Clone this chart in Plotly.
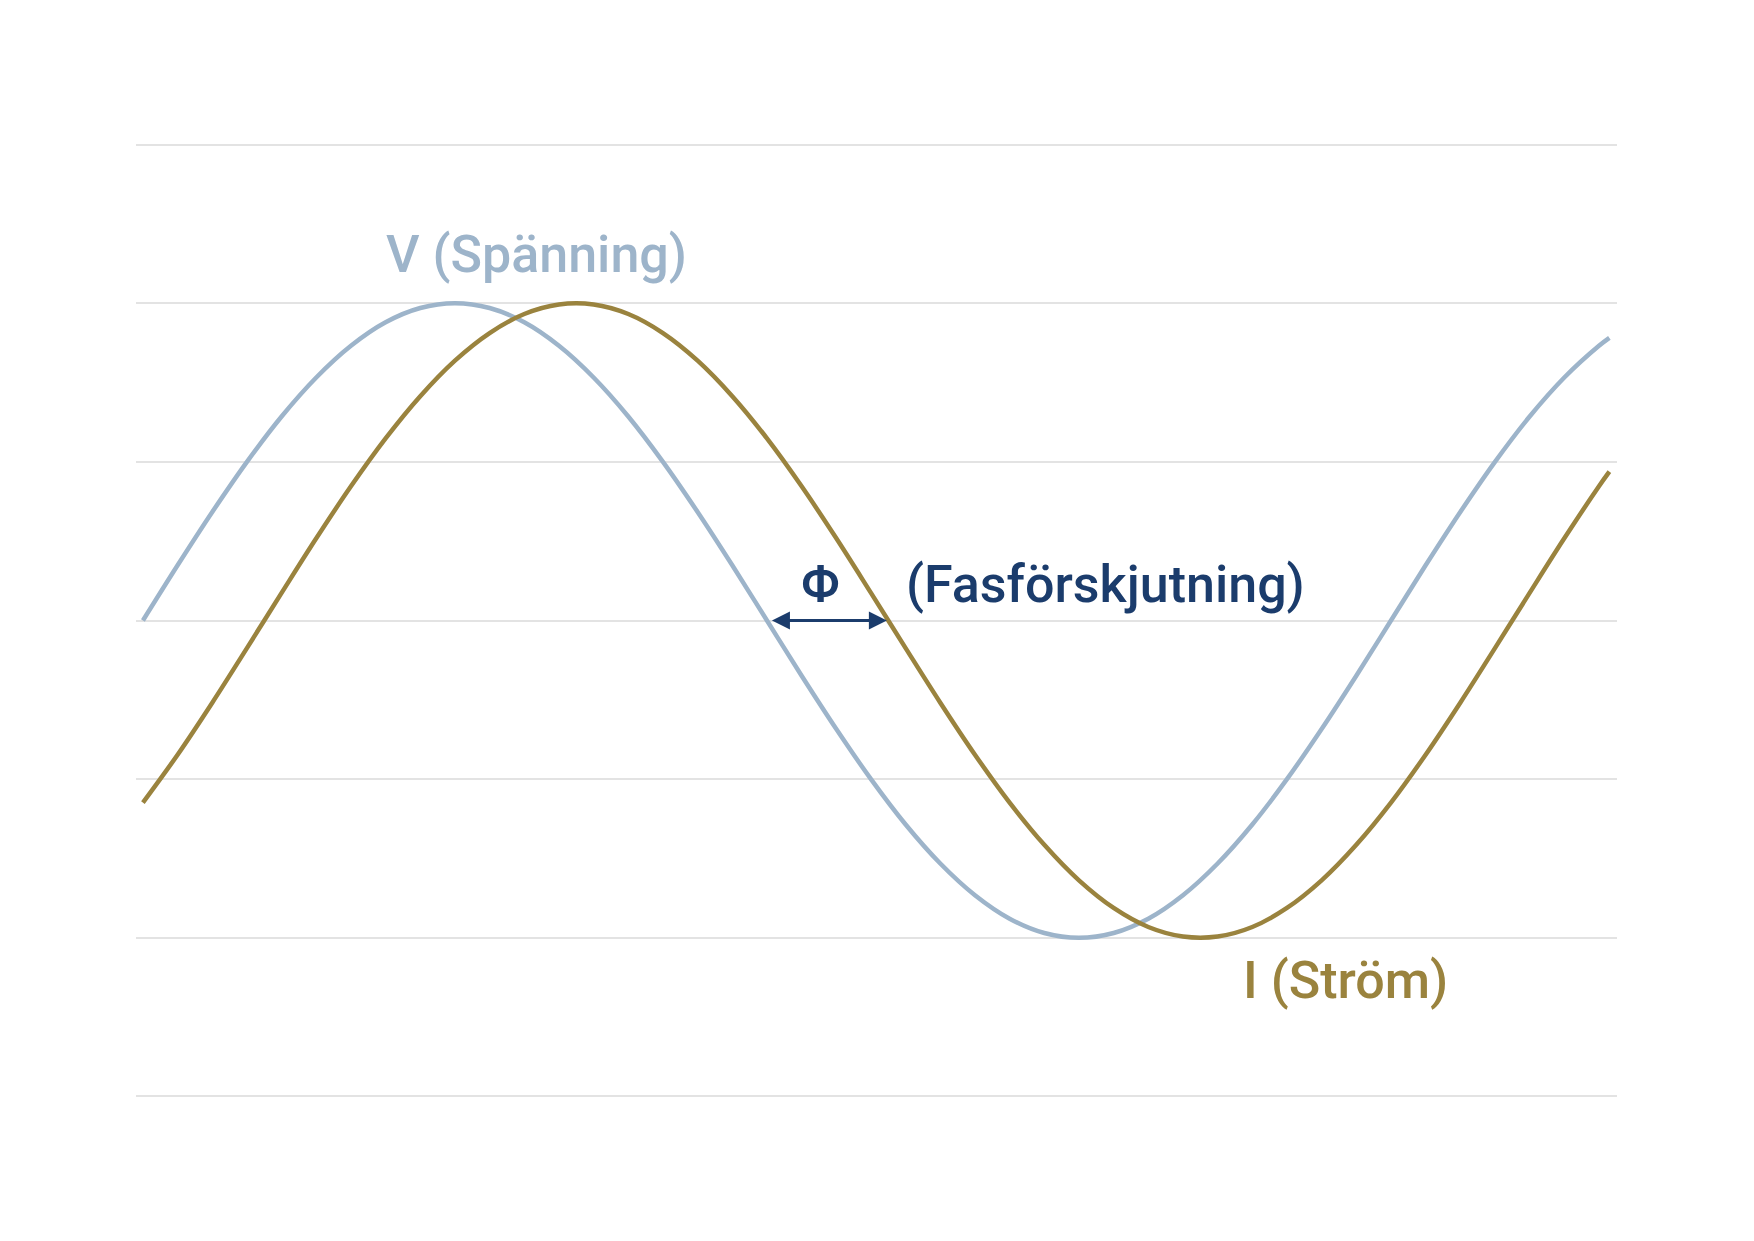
import plotly.graph_objects as go

# Phase angle (degrees) of the voltage wave
angle_deg = [0, 10, 20, 30, 40, 50, 60, 70, 80, 90, 100, 110, 120, 130, 140, 150,
             160, 170, 180, 190, 200, 210, 220, 230, 240, 250, 260, 270, 280, 290,
             300, 310, 320, 330, 340, 350, 360, 370, 380, 390, 400, 410, 420, 423]

# Voltage V (Spänning), normalised amplitude
voltage = [0, 0.174, 0.342, 0.5, 0.643, 0.766, 0.866, 0.940, 0.985, 1.0, 0.985, 0.940,
           0.866, 0.766, 0.643, 0.5, 0.342, 0.174, 0, -0.174, -0.342, -0.5, -0.643,
           -0.766, -0.866, -0.940, -0.985, -1.0, -0.985, -0.940, -0.866, -0.766, -0.643,
           -0.5, -0.342, -0.174, 0, 0.174, 0.342, 0.5, 0.643, 0.766, 0.866, 0.891]

# Current I (Ström), lagging the voltage
current = [-0.574, -0.423, -0.259, -0.087, 0.087, 0.259, 0.423, 0.574, 0.707, 0.819,
           0.906, 0.966, 0.996, 0.996, 0.966, 0.906, 0.819, 0.707, 0.574, 0.423, 0.259,
           0.087, -0.087, -0.259, -0.423, -0.574, -0.707, -0.819, -0.906, -0.966, -0.996,
           -0.996, -0.966, -0.906, -0.819, -0.707, -0.574, -0.423, -0.259, -0.087, 0.087,
           0.259, 0.423, 0.469]

# Phase shift arrow: from V zero crossing to I zero crossing
phi_start = 181
phi_end = 214.6

labels = {"V": "V (Spänning)", "I": "I (Ström)", "phi": "Φ", "phi_txt": "(Fasförskjutning)"}

V_COLOR = "#9db4ca"
I_COLOR = "#9a833e"
PHI_COLOR = "#1b3c6c"
FONT = "Roboto"

fig = go.Figure()
fig.add_trace(go.Scatter(x=angle_deg, y=voltage, mode="lines",
                         line=dict(color=V_COLOR, width=4.5, shape="spline"),
                         hoverinfo="skip", showlegend=False))
fig.add_trace(go.Scatter(x=angle_deg, y=current, mode="lines",
                         line=dict(color=I_COLOR, width=4.5, shape="spline"),
                         hoverinfo="skip", showlegend=False))

fig.add_annotation(x=phi_end, y=0, ax=phi_start, ay=0, xref="x", yref="y",
                   axref="x", ayref="y", text="", showarrow=True,
                   arrowhead=2, startarrowhead=2, arrowside="end+start",
                   arrowsize=1.2, startarrowsize=1.2, arrowwidth=3, arrowcolor=PHI_COLOR)

fig.add_annotation(x=113.4, y=1.155, xref="x", yref="y", text=labels["V"], showarrow=False,
                   xanchor="center", yanchor="middle",
                   font=dict(family=FONT, size=52, color=V_COLOR, weight=500))
fig.add_annotation(x=195.5, y=0.113, xref="x", yref="y", text=labels["phi"], showarrow=False,
                   xanchor="center", yanchor="middle",
                   font=dict(family=FONT, size=52, color=PHI_COLOR, weight=500))
fig.add_annotation(x=219.4, y=0.113, xref="x", yref="y", text=labels["phi_txt"], showarrow=False,
                   xanchor="left", yanchor="middle",
                   font=dict(family=FONT, size=52, color=PHI_COLOR, weight=500))
fig.add_annotation(x=347.0, y=-1.135, xref="x", yref="y", text=labels["I"], showarrow=False,
                   xanchor="center", yanchor="middle",
                   font=dict(family=FONT, size=52, color=I_COLOR, weight=500))

fig.update_layout(
    width=1754, height=1241,
    margin=dict(l=136, r=137, t=143, b=143),
    paper_bgcolor="white", plot_bgcolor="white",
    xaxis=dict(range=[-2.0, 425.2], showgrid=False, zeroline=False, showticklabels=False,
               ticks="", showline=False),
    yaxis=dict(range=[-1.505, 1.505], dtick=0.5, tick0=0, showgrid=True, gridcolor="#e3e3e3",
               gridwidth=2, zeroline=True, zerolinecolor="#e3e3e3", zerolinewidth=2,
               showticklabels=False, ticks="", showline=False),
)

fig.write_html("out.html")
